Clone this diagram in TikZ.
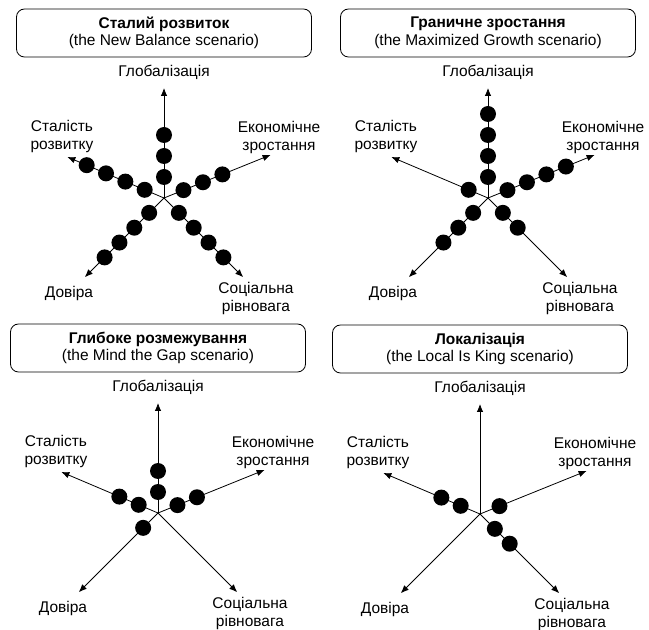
\documentclass[tikz,border=0pt]{standalone}
\usepackage{fontspec}
\setmainfont{Liberation Sans}
\usetikzlibrary{arrows.meta}
\tikzset{
 axis/.style={line width=0.8pt, -{Latex[length=8pt,width=6.5pt]}},
 dot/.style={circle, fill, inner sep=0pt, minimum size=16pt},
 lbl/.style={align=center, font=\fontsize{15.5}{18}\selectfont},
 titlebox/.style={draw, line width=0.8pt, rounded corners=8pt, minimum width=295pt, minimum height=48pt, align=center, font=\fontsize{15.5}{17.5}\selectfont}
}
\begin{document}
\begin{tikzpicture}[x=1pt,y=1pt]
 \useasboundingbox (0,0) rectangle (649,630);
 \foreach \p/\cx/\cy/\tb/\ts/\dl in {
   a/164/432/{Сталий розвиток}/{(the New Balance scenario)}/{90/3,22/3,157/4,225/4,315/4},
   b/488/432/{Граничне зростання}/{(the Maximized Growth scenario)}/{90/4,22/4,157/1,225/3,315/2},
   c/158/117/{Глибоке розмежування}/{(the Mind the Gap scenario)}/{90/2,22/2,157/2,225/1},
   d/480/116/{Локалізація}/{(the Local Is King scenario)}/{22/1,157/2,315/2}} {
 \begin{scope}[shift={(\cx,\cy)}]
  \node[titlebox] (\p-title) at (0,165) {\textbf{\tb}\\\ts};
  \coordinate (\p-0) at (0,0);
  \coordinate (\p-g) at (90:110);
  \coordinate (\p-e) at (22:115);
  \coordinate (\p-s) at (157:105);
  \coordinate (\p-d) at (225:112);
  \coordinate (\p-r) at (315:112);
  \foreach \t in {g,e,s,d,r}
   \draw[axis] (\p-0) -- (\p-\t);
  \node[lbl] (\p-gl) at (0,126) {Глобалізація};
  \node[lbl] (\p-el) at (115,61) {Економічне\\зростання};
  \node[lbl] (\p-sl) at (-102,62) {Сталість\\розвитку};
  \node[lbl] (\p-dl) at (-95,-95) {Довіра};
  \node[lbl] (\p-rl) at (92,-100) {Соціальна\\рівновага};
  % scenario values on each axis
  \foreach \ang/\n in \dl
   \foreach \k in {1,...,\n}
    \node[dot] (\p-\ang-\k) at (\ang:\k*21) {};
 \end{scope}
 }
\end{tikzpicture}
\end{document}
